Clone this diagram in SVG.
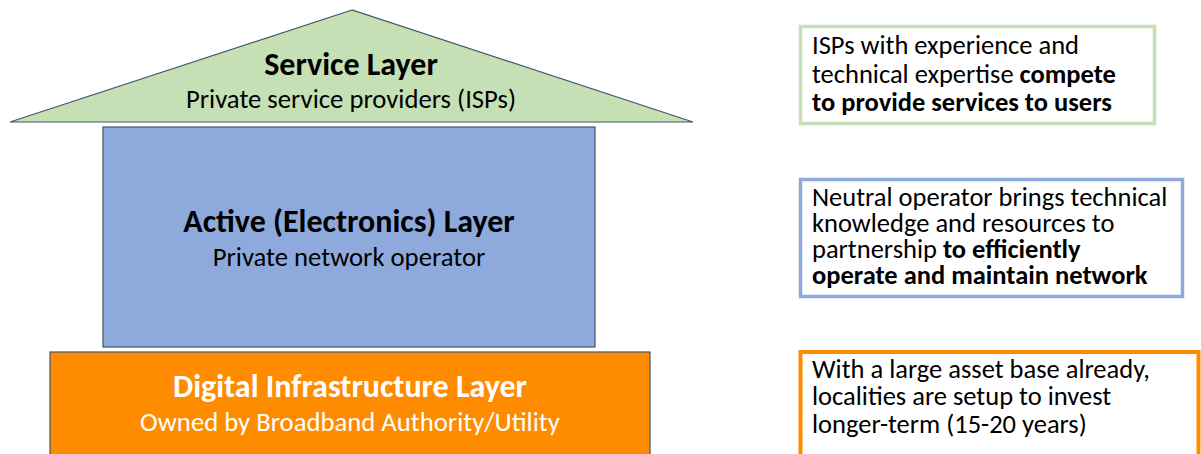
<svg xmlns="http://www.w3.org/2000/svg" width="1201" height="454" viewBox="0 0 1201 454">
<style>
text{font-family:Carlito,Lato,"Liberation Sans",sans-serif;fill:#000}
.t{font-size:32px;font-weight:bold;text-anchor:middle}
.s{font-size:26.7px;text-anchor:middle}
.r{font-size:26.5px}
.b{font-weight:bold}
.w{fill:#fff}
.shape{stroke:#44546A;stroke-width:1.2}
</style>
<rect width="1201" height="454" fill="#fff"/>
<g id="service-layer">
<polygon class="shape" points="352,10 10,122 693,122" fill="#C5E0B4"/>
<text class="t" x="351" y="75">Service Layer</text>
<text class="s" x="351" y="108">Private service providers (ISPs)</text>
</g>
<g id="active-layer">
<rect class="shape" x="103" y="127" width="492" height="220" fill="#8EA9DB"/>
<text class="t" x="349" y="232">Active (Electronics) Layer</text>
<text class="s" x="349" y="266">Private network operator</text>
</g>
<g id="infrastructure-layer">
<rect class="shape" x="50" y="352" width="600" height="110" fill="#FF8C00"/>
<text class="t w" x="350" y="397">Digital Infrastructure Layer</text>
<text class="s w" x="350" y="431">Owned by Broadband Authority/Utility</text>
</g>
<g id="note-service">
<rect x="800.5" y="26.5" width="354" height="97" fill="#fff" stroke="#C5E0B4" stroke-width="3.5"/>
<text class="r" x="812" y="54">ISPs with experience and</text>
<text class="r" x="812" y="83">technical expertise <tspan class="b">compete</tspan></text>
<text class="r b" x="812" y="111">to provide services to users</text>
</g>
<g id="note-active">
<rect x="800.5" y="179.5" width="382" height="117" fill="#fff" stroke="#8EA9DB" stroke-width="3.5"/>
<text class="r" x="812" y="206">Neutral operator brings technical</text>
<text class="r" x="812" y="232">knowledge and resources to</text>
<text class="r" x="812" y="258">partnership <tspan class="b">to efficiently</tspan></text>
<text class="r b" x="812" y="284">operate and maintain network</text>
</g>
<g id="note-infrastructure">
<rect x="800.5" y="352" width="398" height="110" fill="#fff" stroke="#FF8C00" stroke-width="4"/>
<text class="r" x="812" y="378">With a large asset base already,</text>
<text class="r" x="812" y="405">localities are setup to invest</text>
<text class="r" x="812" y="433">longer-term (15-20 years)</text>
</g>
<g id="connectors"/>
</svg>
